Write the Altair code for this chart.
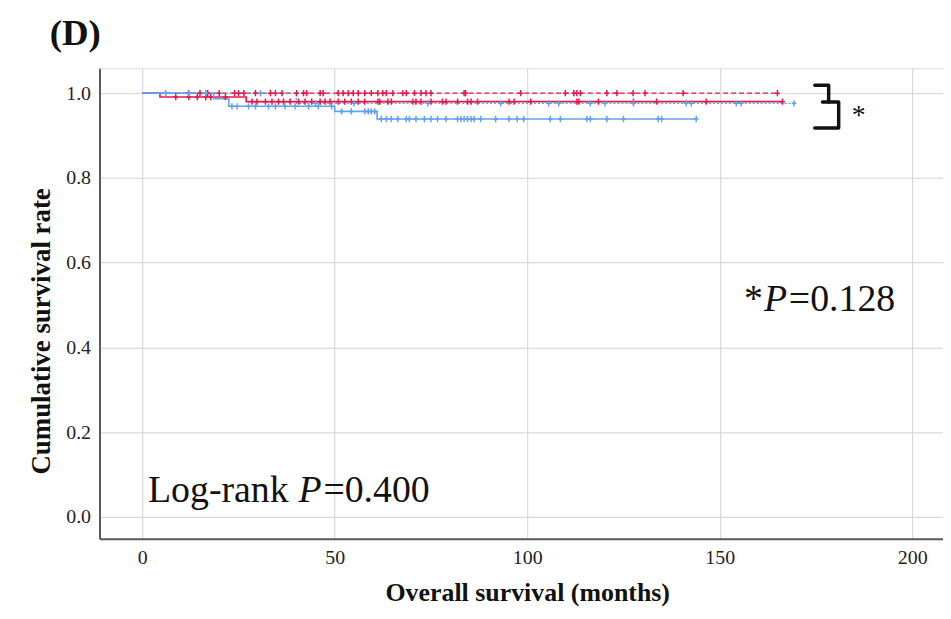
import altair as alt
import pandas as pd

# ---- data ----
series_names = ["red_dashed", "red_solid", "blue_solid", "blue_dotted"]
series_colors = ["#e3194b", "#e3194b", "#62a2ea", "#62a2ea"]
series_dash = [[5, 3], [1, 0], [1, 0], [2, 2]]
series_width = [1.3, 1.6, 1.6, 1.4]

# event times (months) and survival after each event
red_dashed_events = []
red_dashed_surv = []
red_dashed_end = 165.0
red_solid_events = [4.6, 27.0]
red_solid_surv = [0.991, 0.980]
red_solid_end = 166.3
blue_solid_events = [18.6, 22.5, 50.0, 61.0]
blue_solid_surv = [0.987, 0.969, 0.957, 0.939]
blue_solid_end = 143.9
blue_dotted_events = [40.0]
blue_dotted_surv = [0.976]
blue_dotted_end = 169.3

# censor marks (months)
red_dashed_censor = [12, 15, 17, 20, 24, 25, 26.4, 29.4, 33.3, 34.6, 36.3, 40.1, 41.9, 42.7,
                     46.2, 47, 50.9, 52.2, 53.5, 54.8, 56.1, 57.8, 59.5, 61.2, 62.5, 63.4,
                     65.1, 67.7, 68.6, 70.7, 72.4, 73.7, 75, 83.6, 84, 98.3, 109.9, 112.1,
                     112.9, 113.8, 120.7, 123.3, 127.5, 130.6, 140.5, 165]
red_solid_censor = [8.7, 12.1, 14.3, 16.5, 17.8, 21.6, 28.5, 29.8, 32, 33.7, 35.4, 36.7, 38.4,
                    40.6, 42.3, 44, 46.2, 47.5, 48.8, 50.9, 52.6, 54.3, 56.1, 57.8, 61.2,
                    61.7, 63.8, 64.7, 70.3, 71.1, 72.4, 75, 78, 78.9, 81.9, 84.5, 85.4, 87.1,
                    95.3, 96.6, 100.9, 112.9, 113.4, 118.5, 127.6, 133.6, 146.5, 166.3]
blue_solid_censor = [6.1, 12.1, 16.5, 23.3, 24.6, 27.6, 29.4, 32.8, 34.6, 37.1, 39.7, 43.2,
                     45.7, 49.2, 51.8, 54.3, 57.8, 58.7, 59.5, 60.4, 62.1, 63.4, 64.7, 66.4,
                     68.6, 69.4, 71.1, 73.3, 75, 76.7, 78.9, 81.9, 82.8, 83.6, 84.5, 85.4,
                     86.2, 87.9, 91.8, 95.3, 97.4, 99.1, 106, 108.6, 115.5, 116.4, 120.7,
                     125, 134, 134.9, 143.9]
blue_dotted_censor = [30.7, 45, 55, 74.2, 93.1, 105.6, 108.2, 116.4, 120.2, 127.6, 141.3,
                      142.6, 154.3, 155.6, 169.3]

x_ticks = [0, 50, 100, 150, 200]
y_ticks = [0.0, 0.2, 0.4, 0.6, 0.8, 1.0]

# bracket annotation (months, survival) – two polylines
bracket_a_t = [174.7, 178.3, 178.3]
bracket_a_s = [1.0188, 1.0188, 0.9789]
bracket_b_t = [176.7, 180.9, 180.9, 174.7]
bracket_b_s = [0.9789, 0.9789, 0.9178, 0.9178]

events = [red_dashed_events, red_solid_events, blue_solid_events, blue_dotted_events]
survs = [red_dashed_surv, red_solid_surv, blue_solid_surv, blue_dotted_surv]
ends = [red_dashed_end, red_solid_end, blue_solid_end, blue_dotted_end]
censors = [red_dashed_censor, red_solid_censor, blue_solid_censor, blue_dotted_censor]


def surv_at(ev, sv, c):
    s = 1.0
    for t, v in zip(ev, sv):
        if t <= c:
            s = v
    return s


x_enc = alt.X(
    "t:Q",
    scale=alt.Scale(domain=[-11.1, 208.0], nice=False, zero=False),
    axis=alt.Axis(
        values=x_ticks, title="Overall survival (months)", grid=True, ticks=False,
        gridColor="#d2d2d2", domainColor="#5a5a5a", domainWidth=2,
        labelFont="Liberation Serif", labelFontSize=20, labelColor="#222",
        labelPadding=9, titleFont="Liberation Serif", titleFontSize=26,
        titleFontWeight="bold", titleColor="#111", titlePadding=12, titleX=430,
    ),
)
y_enc = alt.Y(
    "s:Q",
    scale=alt.Scale(domain=[-0.0516, 1.0587], nice=False, zero=False),
    axis=alt.Axis(
        values=y_ticks, format=".1f", title="Cumulative survival rate", grid=True,
        ticks=False, gridColor="#d2d2d2", domainColor="#5a5a5a", domainWidth=2,
        labelFont="Liberation Serif", labelFontSize=20, labelColor="#222",
        labelPadding=9, titleFont="Liberation Serif", titleFontSize=27,
        titleFontWeight="bold", titleColor="#111", titlePadding=10, titleY=264,
    ),
)

layers = []
for i, name in enumerate(series_names):
    ts = [0.0] + list(events[i]) + [ends[i]]
    ss = [1.0] + list(survs[i]) + [survs[i][-1] if survs[i] else 1.0]
    df = pd.DataFrame({"t": ts, "s": ss, "o": list(range(len(ts)))})
    layers.append(
        alt.Chart(df).mark_line(
            interpolate="step-after", color=series_colors[i],
            strokeDash=series_dash[i], strokeWidth=series_width[i],
        ).encode(x=x_enc, y=y_enc, order="o:Q")
    )

cross = "M0,-1L0,1M-0.75,0L0.75,0"
for i, name in enumerate(series_names):
    cdf = pd.DataFrame({
        "t": censors[i],
        "s": [surv_at(events[i], survs[i], c) for c in censors[i]],
    })
    layers.append(
        alt.Chart(cdf).mark_point(
            shape=cross, filled=False, color=series_colors[i], size=40,
            strokeWidth=1.5, opacity=1,
        ).encode(x=x_enc, y=y_enc)
    )

for bt, bs in [(bracket_a_t, bracket_a_s), (bracket_b_t, bracket_b_s)]:
    bdf = pd.DataFrame({"t": bt, "s": bs, "o": list(range(len(bt)))})
    layers.append(
        alt.Chart(bdf).mark_line(color="#111", strokeWidth=3.5, strokeJoin="round",
                                 strokeCap="round").encode(x=x_enc, y=y_enc, order="o:Q")
    )

star_df = pd.DataFrame({"t": [184.3], "s": [0.945], "text": ["*"]})
layers.append(
    alt.Chart(star_df).mark_text(font="Liberation Serif", fontSize=28, color="#111",
                                 align="left", baseline="middle").encode(
        x=x_enc, y=y_enc, text="text:N")
)

# annotation texts: anchored at the start of the italic "P"
ann1 = pd.DataFrame({"t": [161.5], "s": [0.486]})
ann2 = pd.DataFrame({"t": [40.6], "s": [0.035]})
txt_style = dict(font="Liberation Serif", fontSize=38, color="#111", baseline="alphabetic")
for adf, before, after, bdx in [(ann1, "*", "=0.128", -1), (ann2, "Log-rank", "=0.400", -10)]:
    layers.append(alt.Chart(adf).mark_text(align="right", dx=bdx,
                                           text=before, **txt_style).encode(x=x_enc, y=y_enc))
    layers.append(alt.Chart(adf).mark_text(align="left", dx=0, text="P", fontStyle="italic",
                                           **txt_style).encode(x=x_enc, y=y_enc))
    layers.append(alt.Chart(adf).mark_text(align="left", dx=25, text=after,
                                           **txt_style).encode(x=x_enc, y=y_enc))

chart = alt.layer(*layers).properties(
    width=848,
    height=473,
    autosize=alt.AutoSizeParams(type="none"),
    padding={"left": 92, "top": 59, "right": 0, "bottom": 72},
    title=alt.TitleParams(
        "(D)", anchor="start", frame="group", dx=-50, offset=15,
        font="Liberation Serif", fontSize=37, fontWeight="bold", color="#111",
    ),
).configure_view(stroke="#c4c4c4", strokeWidth=1).configure(background="white")

chart.save("out.html", embed_options={"renderer": "svg", "actions": False})
